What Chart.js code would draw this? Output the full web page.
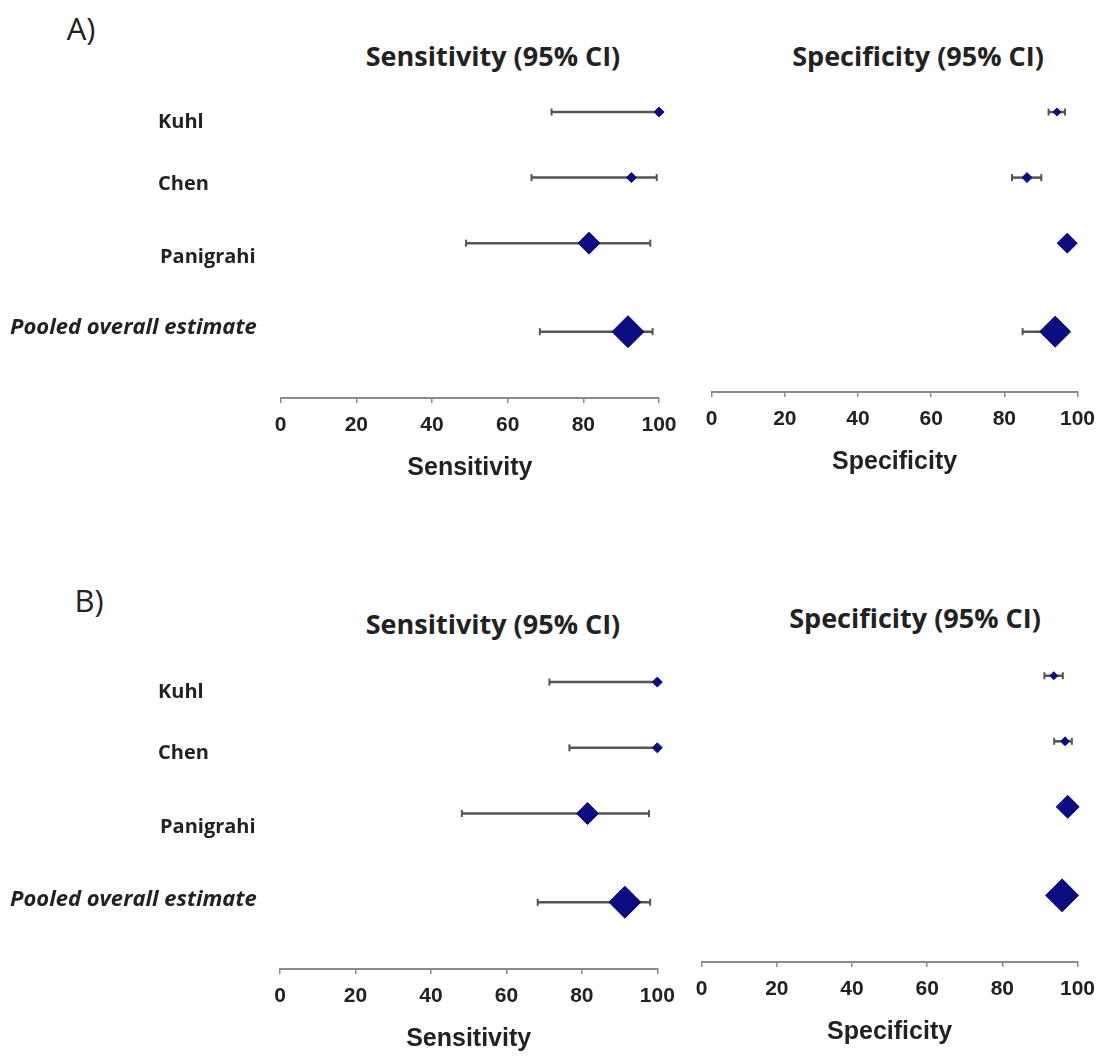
<!DOCTYPE html>
<html>
<head>
<meta charset="utf-8">
<script src="https://cdn.jsdelivr.net/npm/chart.js@4.4.0/dist/chart.umd.min.js"></script>
<style>
  body { margin: 0; background: #fff; }
  #wrap { position: relative; width: 1105px; height: 1057px; overflow: hidden; font-family: 'Open Sans', sans-serif; color: #222; }
  #wrap canvas { position: absolute; }
  .txt { position: absolute; transform: translate(-50%, -50%); white-space: nowrap; }
  .panel { font-size: 31px; }
  .title { font-size: 27px; font-weight: bold; }
</style>
</head>
<body>
<div id="wrap">
  <div class="txt panel" style="left:81px;top:28px">A)</div>
  <div class="txt title" style="left:493px;top:55px">Sensitivity (95% CI)</div>
  <div class="txt title" style="left:918px;top:55px">Specificity (95% CI)</div>
  <div class="txt panel" style="left:89px;top:600px">B)</div>
  <div class="txt title" style="left:493px;top:623px">Sensitivity (95% CI)</div>
  <div class="txt title" style="left:915px;top:617px">Specificity (95% CI)</div>
</div>
<script>
// Studies (rows, top to bottom)
const studies = ['Kuhl', 'Chen', 'Panigrahi', 'Pooled overall estimate'];
const xTicks = [0, 20, 40, 60, 80, 100];

// A) sensitivity
const sensA = [100, 92.7, 81.5, 91.8];
const sensALow = [71.6, 66.3, 49.0, 68.5];
const sensAHigh = [100, 99.4, 97.7, 98.3];
// A) specificity
const specA = [94.4, 86.2, 97.2, 93.9];
const specALow = [92.1, 82.1, 95.5, 85.0];
const specAHigh = [96.6, 90.1, 98.8, 97.0];
// B) sensitivity
const sensB = [100, 100, 81.5, 91.4];
const sensBLow = [71.4, 76.7, 48.2, 68.3];
const sensBHigh = [100, 100, 97.8, 98.1];
// B) specificity
const specB = [93.7, 96.7, 97.4, 95.9];
const specBLow = [91.2, 93.8, 96.0, 93.5];
const specBHigh = [96.1, 98.5, 98.8, 98.0];

// row positions on the y scale (pooled row sits a bit further down)
const rowPos = [1, 2, 3, 4.35];
const rowSpan = 65.5;

const navy = '#0c0c82';
const ciGrey = '#555555';
const axisGrey = '#8c8c8c';

const rowLabelPlugin = {
  id: 'rowLabels',
  afterDraw(chart, args, opts) {
    if (!opts.labels) return;
    const ctx = chart.ctx;
    const y = chart.scales.y;
    ctx.save();
    ctx.fillStyle = '#222';
    ctx.textBaseline = 'middle';
    ctx.textAlign = 'left';
    opts.labels.forEach((t, i) => {
      const last = i === opts.labels.length - 1;
      ctx.font = last ? 'italic bold 22px "Open Sans"' : 'bold 20px "Open Sans"';
      ctx.fillText(t, opts.x[i], y.getPixelForValue(rowPos[i]) + opts.dy[i]);
    });
    ctx.restore();
  }
};

function makeForest(lay, est, lo, hi, axisTitle, labels) {
  const canvas = document.createElement('canvas');
  const height = lay.axisY - lay.top + 95;
  canvas.width = lay.width;
  canvas.height = height;
  canvas.style.left = lay.left + 'px';
  canvas.style.top = lay.top + 'px';
  document.getElementById('wrap').appendChild(canvas);

  const yMin = 0.5;
  const yMax = rowPos[0] + (lay.axisY - lay.row1Y) / rowSpan;
  // keep this above the point overflow padding Chart.js enforces (~21px)
  const padTop = lay.row1Y - (rowPos[0] - yMin) * rowSpan - lay.top;

  const datasets = [{
    type: 'scatter',
    data: est.map((v, i) => ({ x: v, y: rowPos[i] })),
    pointStyle: 'rectRot',
    pointRadius: lay.markerR,
    backgroundColor: navy,
    borderColor: navy,
    borderWidth: 1,
    clip: false
  }];
  est.forEach((v, i) => {
    datasets.push({
      type: 'line',
      data: [{ x: lo[i], y: rowPos[i] }, { x: hi[i], y: rowPos[i] }],
      borderColor: ciGrey,
      borderWidth: 2.5,
      pointStyle: 'line',
      pointRotation: 90,
      pointRadius: 3.5,
      pointBorderWidth: 2,
      pointBorderColor: ciGrey,
      clip: false
    });
  });

  return new Chart(canvas.getContext('2d'), {
    data: { datasets },
    plugins: [rowLabelPlugin],
    options: {
      responsive: false,
      animation: false,
      events: [],
      devicePixelRatio: 1,
      layout: {
        padding: {
          left: lay.x0 - lay.left,
          right: lay.width - (lay.x100 - lay.left),
          top: padTop,
          bottom: 4.8
        }
      },
      plugins: {
        legend: { display: false },
        tooltip: { enabled: false },
        rowLabels: labels ? { labels, x: lay.labelX, dy: lay.labelDy } : {}
      },
      scales: {
        x: {
          type: 'linear',
          min: 0,
          max: 100,
          afterBuildTicks: s => { s.ticks = xTicks.map(v => ({ value: v })); },
          border: { display: true, color: axisGrey, width: 2 },
          grid: { drawOnChartArea: false, drawTicks: true, tickLength: 5, color: axisGrey, lineWidth: 1.5 },
          ticks: {
            padding: 10,
            color: '#222',
            maxRotation: 0,
            font: { family: '"Liberation Sans", Arial, sans-serif', weight: 'bold', size: 21 }
          },
          title: {
            display: true,
            text: axisTitle,
            color: '#222',
            padding: { top: 5, bottom: 4 },
            font: { family: '"Liberation Sans", Arial, sans-serif', weight: 'bold', size: 25 }
          }
        },
        y: {
          type: 'linear',
          display: false,
          reverse: true,
          min: yMin,
          max: yMax
        }
      }
    }
  });
}

const layout = {
  sensA: { left: 0, top: 54, width: 700, x0: 280.7, x100: 659, row1Y: 112, axisY: 397.7,
           markerR: [5, 5, 11, 16], labelX: [158, 158, 160, 10], labelDy: [10, 7, 14, -4] },
  specA: { left: 680, top: 54, width: 425, x0: 711.7, x100: 1081, row1Y: 112, axisY: 391.7,
           markerR: [4, 5, 10, 15.5] },
  sensB: { left: 0, top: 624, width: 700, x0: 280, x100: 657.3, row1Y: 682, axisY: 968,
           markerR: [5, 5, 11, 16], labelX: [158, 158, 160, 10], labelDy: [10, 5, 14, -2] },
  specB: { left: 675, top: 618, width: 430, x0: 701.7, x100: 1080, row1Y: 675.7, axisY: 961.7,
           markerR: [4, 4.5, 11.5, 16.5] }
};

window.charts = {};
window.charts.sensA = makeForest(layout.sensA, sensA, sensALow, sensAHigh, 'Sensitivity', studies);
window.charts.specA = makeForest(layout.specA, specA, specALow, specAHigh, 'Specificity', null);
window.charts.sensB = makeForest(layout.sensB, sensB, sensBLow, sensBHigh, 'Sensitivity', studies);
window.charts.specB = makeForest(layout.specB, specB, specBLow, specBHigh, 'Specificity', null);
</script>
</body>
</html>
